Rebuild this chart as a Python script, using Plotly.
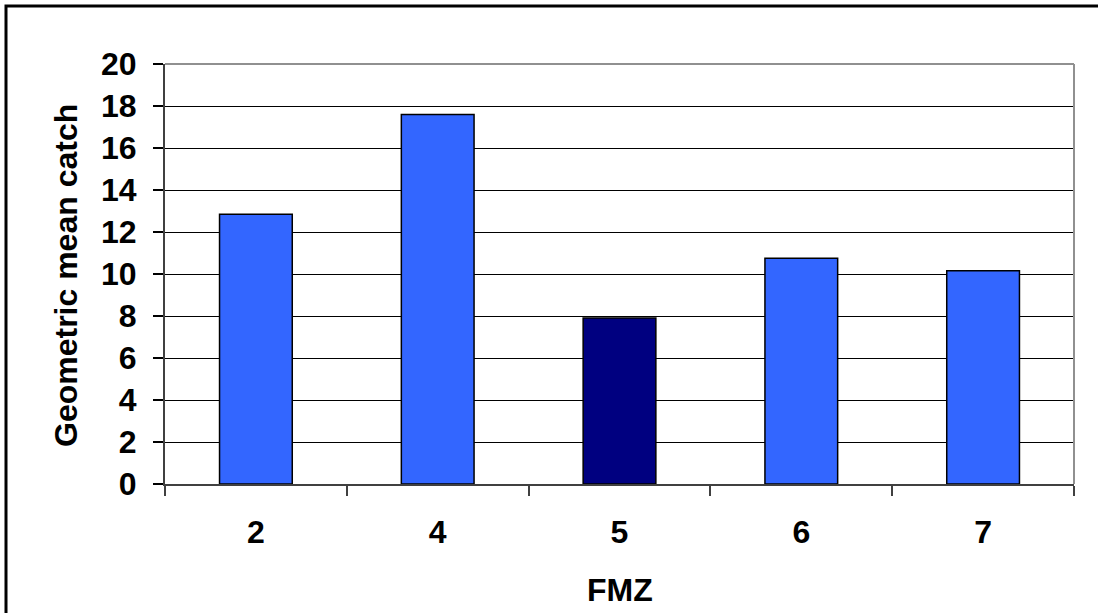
import plotly.graph_objects as go

# FMZ zones and geometric mean catch per zone
zones = ["2", "4", "5", "6", "7"]
catch = [12.85, 17.6, 7.9, 10.75, 10.15]
bar_colors = ["#3366FF", "#3366FF", "#000080", "#3366FF", "#3366FF"]
y_ticks = [0, 2, 4, 6, 8, 10, 12, 14, 16, 18, 20]

W, H = 1098, 613
L, R, T, B = 165, 24, 64, 129
pw, ph = W - L - R, H - T - B

def px_x(x):
    return (x - L) / pw

def px_y(y):
    return (H - B - y) / ph

font = "Liberation Sans, Arial, sans-serif"

fig = go.Figure(
    go.Bar(
        x=zones,
        y=catch,
        marker=dict(color=bar_colors, line=dict(color="#000000", width=1.5)),
    )
)

fig.update_layout(
    width=W,
    height=H,
    margin=dict(l=L, r=R, t=T, b=B),
    paper_bgcolor="white",
    plot_bgcolor="white",
    bargap=0.6,
    showlegend=False,
    font=dict(family=font, size=32, color="#000000"),
)

fig.update_xaxes(
    type="category",
    range=[-0.5, 4.5],
    ticks="outside",
    tickson="boundaries",
    ticklen=10,
    tickwidth=1.5,
    tickcolor="#404040",
    showline=True,
    linecolor="#404040",
    linewidth=1.5,
    showgrid=False,
    ticklabelstandoff=19,
    tickfont=dict(family=font, size=32, weight="bold"),
)

fig.update_yaxes(
    range=[0, 20],
    tickvals=y_ticks,
    ticks="outside",
    ticklen=10,
    tickwidth=1.5,
    tickcolor="#000000",
    showline=True,
    linecolor="#404040",
    linewidth=2,
    showgrid=True,
    gridcolor="#000000",
    gridwidth=1.2,
    zeroline=False,
    ticklabelstandoff=10,
    tickfont=dict(family=font, size=32, weight="bold"),
)

# Axis titles
fig.add_annotation(
    text="<b>Geometric mean catch</b>",
    xref="paper", yref="paper",
    x=px_x(66), y=px_y(276),
    xanchor="center", yanchor="middle",
    textangle=-90,
    showarrow=False,
    font=dict(family=font, size=32),
)
fig.add_annotation(
    text="<b>FMZ</b>",
    xref="paper", yref="paper",
    x=px_x(620), y=px_y(590),
    xanchor="center", yanchor="middle",
    showarrow=False,
    font=dict(family=font, size=32),
)

# Grey top and right border of the plot area
fig.add_shape(type="line", xref="paper", yref="paper",
              x0=0, x1=1, y0=1, y1=1, line=dict(color="#909090", width=2))
fig.add_shape(type="line", xref="paper", yref="paper",
              x0=1, x1=1, y0=0, y1=1, line=dict(color="#909090", width=2))

# Outer chart frame (runs off the right and bottom edges)
fig.add_shape(type="rect", xref="paper", yref="paper",
              x0=px_x(6), x1=px_x(1110), y0=px_y(630), y1=px_y(6),
              line=dict(color="#000000", width=3), layer="above")

fig.write_html("out.html")
